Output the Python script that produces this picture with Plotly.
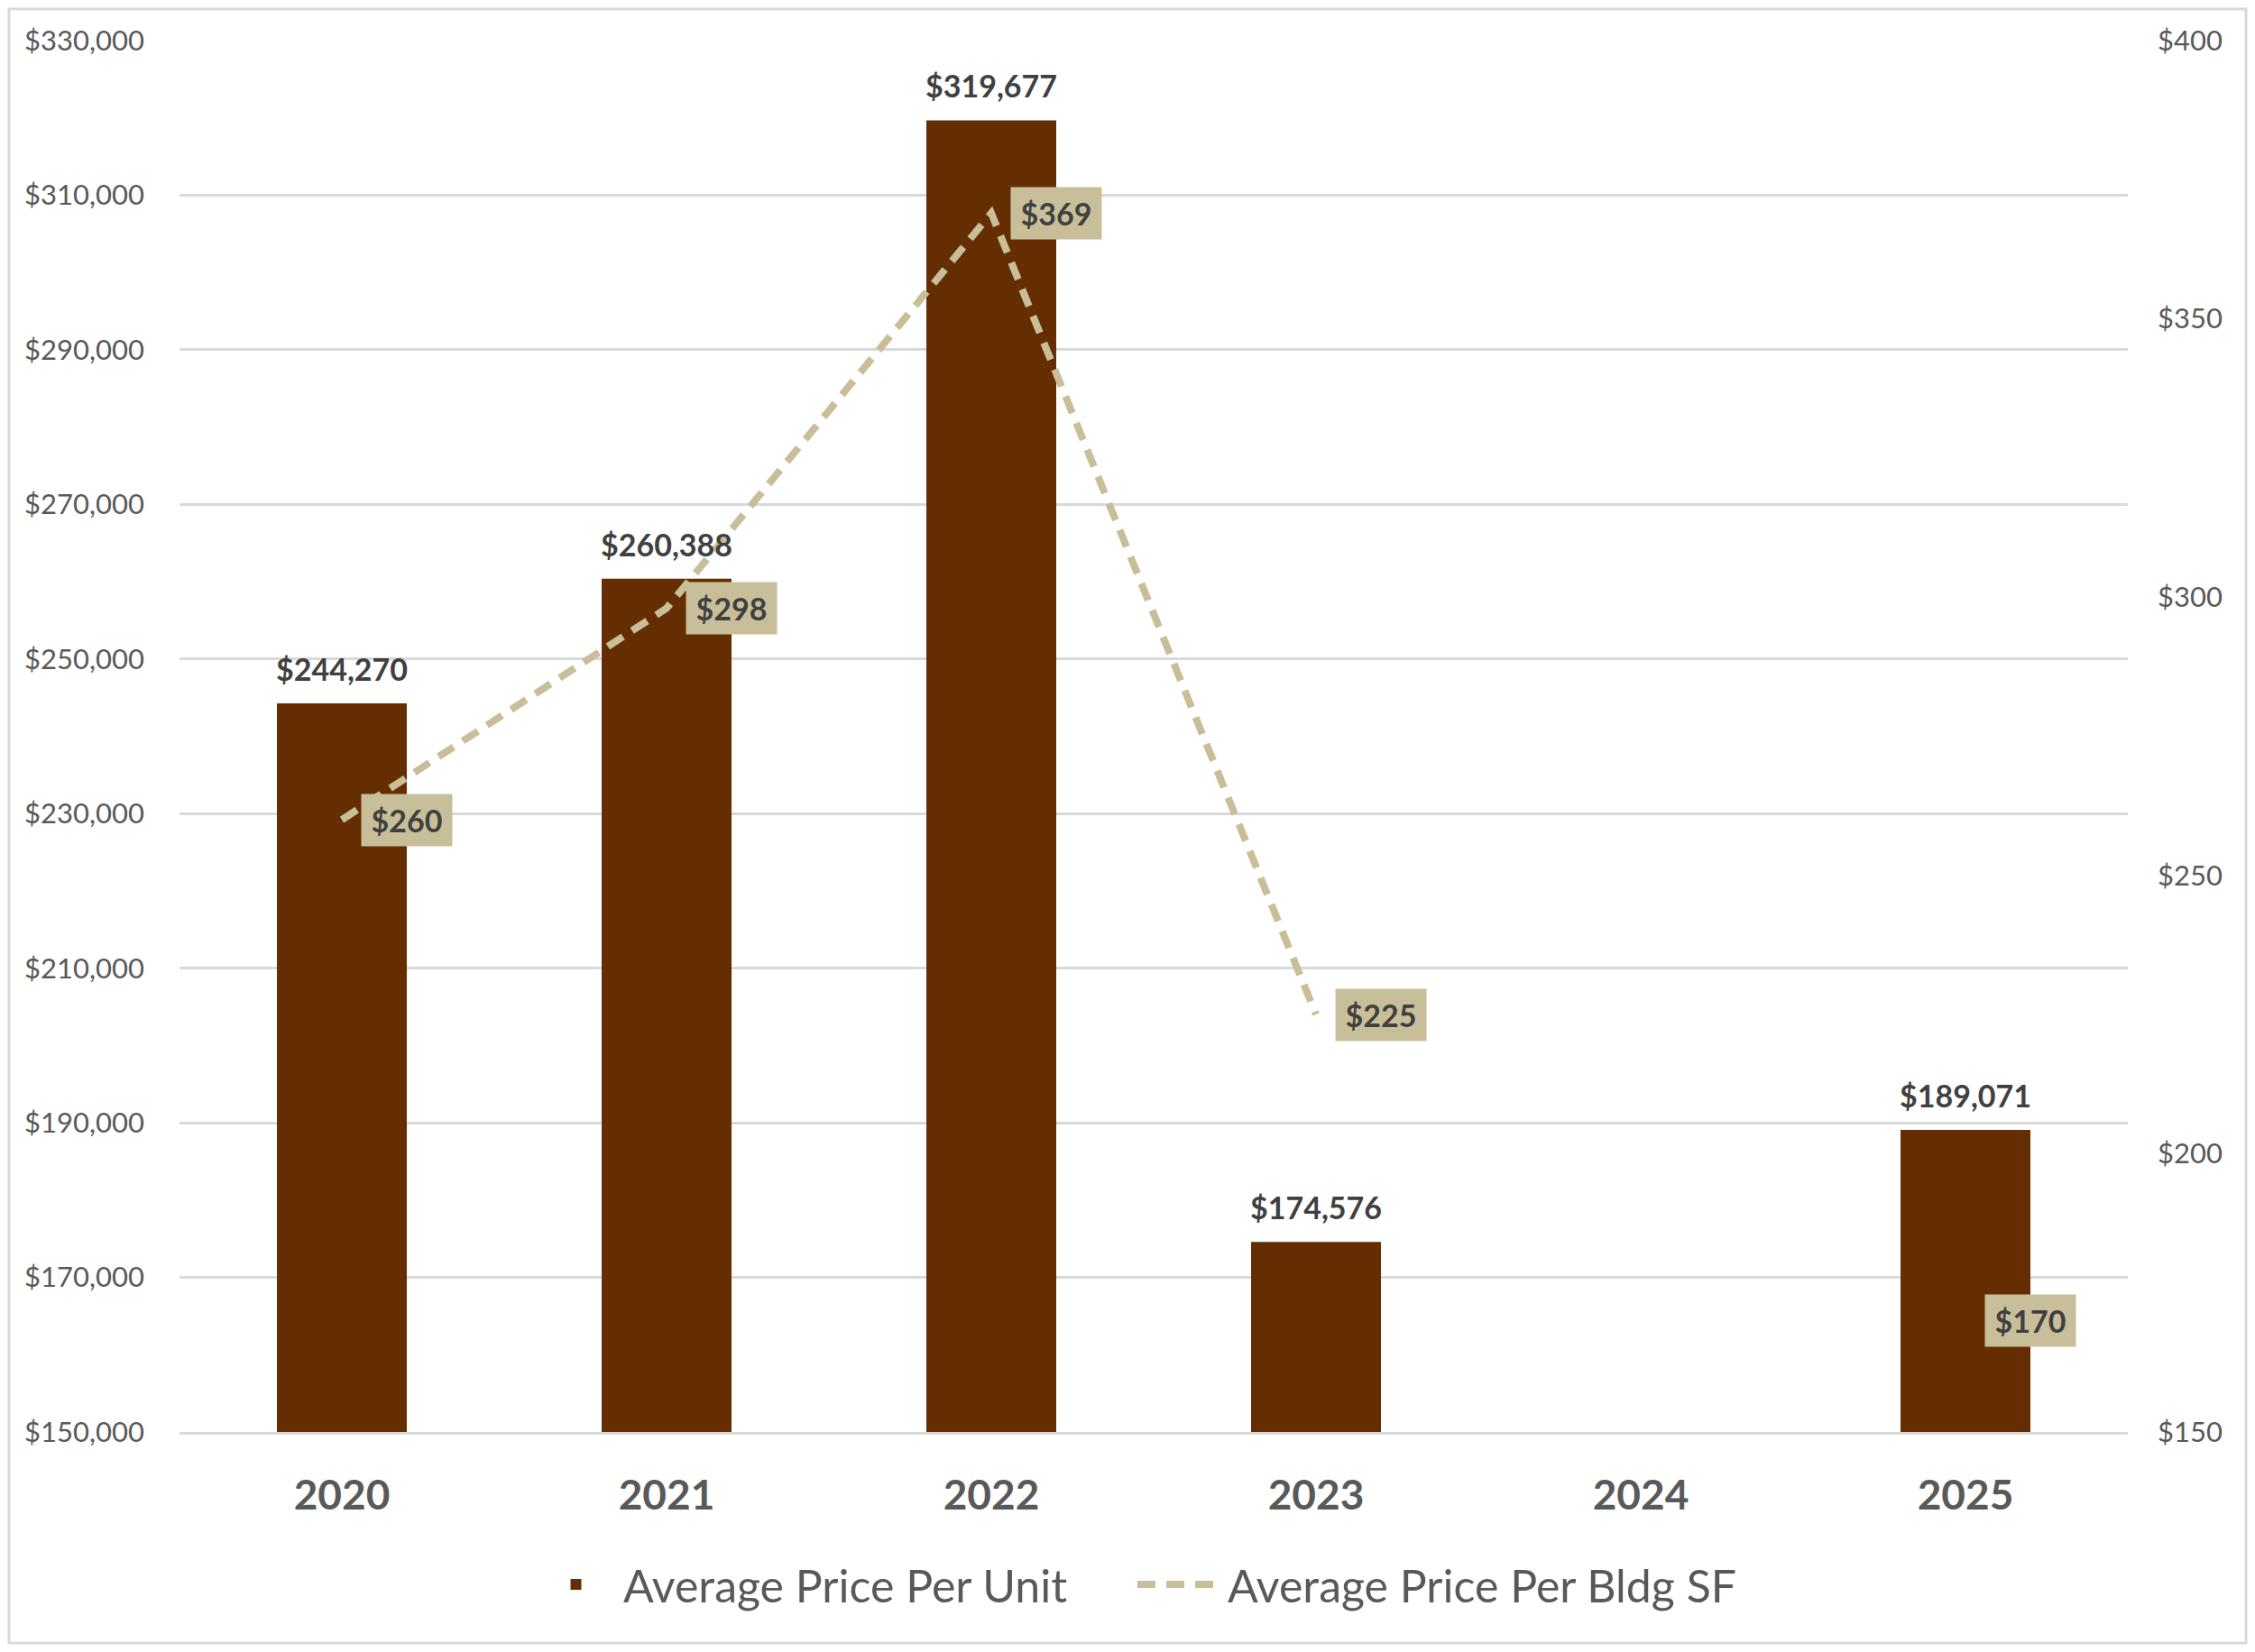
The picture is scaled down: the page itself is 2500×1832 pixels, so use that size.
import plotly.graph_objects as go

years = ["2020", "2021", "2022", "2023", "2024", "2025"]
price_per_unit = [244270, 260388, 319677, 174576, None, 189071]
price_per_sf = [260, 298, 369, 225, None, 170]

BAR = "#652E02"
TAN = "#C8BF9A"
TXT = "#404040"
TICK = "#595959"
FONT = "Lato"

OFF = 8  # page body margin
W, H = 2500 - 2 * OFF, 1832 - 2 * OFF
ML = 199 - OFF
MT = 45 - OFF
PR = 2359 - OFF
PB = 1588 - OFF
MR = W - PR
MB = H - PB
PW, PH = PR - ML, PB - MT

fig = go.Figure()
fig.add_trace(go.Bar(
    x=years, y=price_per_unit, name="Average Price Per Unit",
    marker=dict(color=BAR, line=dict(width=0)), yaxis="y",
))
fig.add_trace(go.Scatter(
    x=years, y=price_per_sf, name="Average Price Per Bldg SF", mode="lines",
    line=dict(color=TAN, width=8, dash="20px,12px"), yaxis="y2",
    connectgaps=False,
))

ann = []
# category axis: annotation x given as category index
for i, v in enumerate(price_per_unit):
    if v is None:
        continue
    ann.append(dict(x=i, y=v, xref="x", yref="y", text=f"<b>${v:,.0f}</b>",
                    showarrow=False, yanchor="bottom", yshift=16,
                    font=dict(family=FONT, size=34, color=TXT)))
for i, v in enumerate(price_per_sf):
    if v is None:
        continue
    ann.append(dict(x=i, y=v, xref="x", yref="y2", text=f"<b>${v:,.0f}</b>",
                    showarrow=False, xanchor="left", yanchor="middle", xshift=21,
                    bgcolor=TAN, borderpad=9, width=82, height=39,
                    font=dict(family=FONT, size=34, color=TXT)))

fig.update_layout(
    width=W, height=H,
    margin=dict(l=ML, r=MR, t=MT, b=MB),
    paper_bgcolor="white", plot_bgcolor="white",
    bargap=0.6,
    font=dict(family=FONT, color=TICK),
    xaxis=dict(type="category", range=[-0.5, 5.5], showgrid=False,
               showline=True, linecolor="#D9D9D9", linewidth=3,
               tickfont=dict(family=FONT, size=46, color=TICK, weight="bold"),
               ticks="", ticklabelstandoff=28),
    yaxis=dict(range=[150000, 330000], tick0=150000, dtick=20000, tickprefix="$",
               tickformat=",", showgrid=True, gridcolor="#D9D9D9", gridwidth=3,
               zeroline=False, showline=False, ticks="",
               tickfont=dict(family=FONT, size=31, color=TICK),
               ticklabelstandoff=38),
    yaxis2=dict(range=[150, 400], tick0=150, dtick=50, tickprefix="$",
                overlaying="y", side="right", showgrid=False, zeroline=False,
                showline=False, ticks="",
                tickfont=dict(family=FONT, size=31, color=TICK),
                ticklabelstandoff=32),
    legend=dict(orientation="h", x=(1256 - OFF - ML) / PW, xanchor="center",
                y=(PB - (1757 - OFF)) / PH, yanchor="middle",
                font=dict(family=FONT, size=50, color=TICK),
                itemwidth=95, entrywidth=560, traceorder="normal"),
    annotations=ann,
    shapes=[dict(type="rect", xref="paper", yref="paper",
                 x0=(2 - ML) / PW, x1=(W - 2 - ML) / PW,
                 y0=(PB - (H - 2)) / PH, y1=(PB - 2) / PH,
                 line=dict(color="#D9D9D9", width=3), fillcolor="rgba(0,0,0,0)",
                 layer="below")],
    showlegend=True,
)

fig.write_html("out.html")
